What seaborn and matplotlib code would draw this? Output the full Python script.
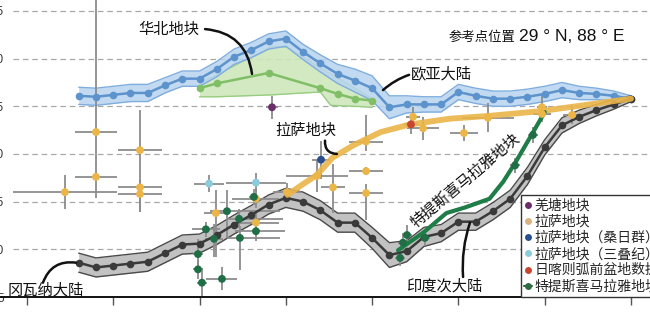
import matplotlib
matplotlib.use("Agg")
import matplotlib.pyplot as plt
import seaborn as sns
import numpy as np
import pandas as pd
from matplotlib.lines import Line2D
from matplotlib.font_manager import FontProperties

# ---------------- data ----------------
apwp_age = [320, 310, 300, 290, 280, 270, 260, 250, 240, 230, 220, 210, 200, 190, 180,
            170, 160, 150, 140, 130, 120, 110, 100, 90, 80, 70, 60, 50, 40, 30, 20, 10, 0]
eurasia_lat = [26.1, 26.0, 26.2, 26.4, 26.4, 27.2, 27.9, 27.9, 28.9, 30.2, 30.9, 31.8, 32.1, 30.7, 29.5,
               28.4, 27.7, 26.9, 24.9, 25.2, 25.2, 25.2, 26.5, 26.1, 25.8, 25.8, 26.0, 26.3, 26.7, 26.4, 26.3, 26.1, 25.8]
eurasia_err = [0.9, 0.9, 0.9, 0.9, 0.9, 0.8, 0.8, 0.8, 0.8, 0.8, 0.8, 0.8, 0.8, 0.8, 0.9,
               1.0, 1.2, 1.3, 1.2, 0.9, 0.8, 0.8, 0.8, 0.8, 0.8, 0.8, 0.8, 0.8, 0.8, 0.7, 0.6, 0.5, 0.3]
india_lat = [8.6, 8.1, 8.3, 8.5, 8.7, 9.6, 10.5, 10.6, 11.5, 12.6, 13.6, 14.7, 15.4, 15.0, 14.1,
             12.8, 12.8, 11.2, 9.4, 9.8, 11.3, 11.7, 12.9, 12.9, 14.0, 15.3, 17.7, 20.7, 23.0, 23.9, 24.6, 25.2, 25.8]
india_err = [1.0, 1.0, 1.0, 1.0, 1.0, 1.0, 1.0, 1.0, 1.0, 1.0, 1.0, 1.0, 1.0, 1.0, 1.0,
             1.0, 1.0, 1.1, 1.3, 1.1, 1.0, 0.9, 0.9, 0.9, 0.9, 0.9, 0.9, 0.8, 0.8, 0.7, 0.6, 0.5, 0.3]

nchina_age = [250, 240, 210, 180, 170, 160, 150]
nchina_lat = [26.9, 27.4, 28.5, 26.9, 26.3, 25.8, 25.6]
nchina_band_age = [250, 240, 208, 199, 180, 174, 160, 150]
nchina_band_hi = [27.4, 28.3, 31.3, 31.2, 29.0, 28.4, 26.9, 25.8]
nchina_band_lo = [26.0, 26.0, 26.2, 26.3, 26.5, 25.1, 25.0, 24.9]

lhasa_path_age = [199, 192, 182, 173, 161, 145, 128, 105, 82, 52, 24, 0]
lhasa_path_lat = [15.7, 16.6, 17.8, 19.6, 20.9, 22.3, 23.1, 23.7, 24.0, 24.5, 25.2, 25.8]
th_path_age = [135, 120, 107, 96, 82, 74, 67, 57, 50]
th_path_lat = [9.9, 11.8, 13.8, 14.4, 15.3, 17.1, 19.1, 22.2, 24.4]

# Lhasa block palaeolatitudes
lh_age = [310, 284.5, 310, 328, 284.5, 284.5, 240.5, 217.3, 217.3, 199.3, 181.9, 172.7,
          153.5, 153.5, 153.5, 126.3, 120.5, 96.8, 82.9, 51.6, 51.6, 34.2]
lh_lat = [22.3, 20.4, 17.6, 16.0, 16.5, 15.8, 13.8, 15.3, 12.8, 16.0, 17.7, 16.5,
          21.3, 18.2, 15.9, 23.9, 22.7, 22.2, 23.8, 24.9, 24.2, 24.1]
lh_xerr = [12, 13, 12, 30, 13, 13, 7, 13.6, 13.6, 8, 18, 7,
           9.8, 9.8, 9.8, 4, 9.3, 8, 15, 3, 5, 5]
lh_yerr_lo = [3.3, 4.0, 2.2, 1.8, 2.6, 1.9, 4.6, 1.0, 1.0, 1.0, 1.7, 2.7,
              1.0, 0.4, 2.8, 1.0, 1.2, 0.8, 1.5, 1.0, 0.8, 1.0]
lh_yerr_hi = [14, 4.2, 1.5, 1.8, 0.8, 0.5, 2.4, 1.0, 1.0, 1.0, 1.7, 2.5,
              2.8, 0.4, 1.0, 1.0, 1.2, 0.8, 1.5, 1.3, 0.5, 1.0]

qt_age = [208.0]
qt_lat = [24.9]
qt_xerr = [3.5]
qt_yerr = [1.2]

sangri_age = [179.6]
sangri_lat = [19.4]
sangri_xerr = [5]
sangri_yerr = [2.0]

tri_age = [244.5, 217.3]
tri_lat = [16.9, 17.0]
tri_xerr = [8.7, 17.4]
tri_yerr = [0.9, 1.0]

xig_age = [127.5]
xig_lat = [23.1]
xig_xerr = [4]
xig_yerr = [1.0]

th_age = [234.1, 246.3, 241.6, 227.1, 226.6, 217.3, 218.5, 250.9, 250.9, 248.6, 237.0,
          132.1, 129.8, 119.4, 133.8, 67.2, 56.8]
th_lat = [14.0, 12.1, 11.1, 13.2, 11.2, 11.9, 15.5, 9.5, 7.9, 6.5, 6.9,
          10.7, 11.5, 11.2, 9.1, 18.8, 22.0]
th_xerr_old = [9.8, 8, 5, 7, 7.5, 12, 3, 3, 3, 3, 9, 3, 3, 3, 3, 3, 3]
th_xerr_young = [30.7, 8, 5, 25.5, 23, 17, 3, 3, 3, 3, 9, 3, 3, 3, 3, 3, 3]
th_yerr_lo = [2.8, 0.8, 1.9, 1.0, 3.4, 1.0, 0.8, 1.6, 1.0, 1.5, 1.2, 1.0, 1.0, 0.8, 0.8, 0.8, 0.8]
th_yerr_hi = [2.2, 0.8, 1.6, 1.0, 1.2, 1.0, 0.8, 1.6, 1.0, 1.5, 1.2, 1.0, 1.0, 0.8, 0.8, 0.8, 0.8]

y_ticks = [5, 10, 15, 20, 25, 30, 35]
x_ticks = [350, 300, 250, 200, 150, 100, 50, 0]

legend_labels = ["羌塘地块", "拉萨地块", "拉萨地块（桑日群）", "拉萨地块（三叠纪）",
                 "日喀则弧前盆地数据", "特提斯喜马拉雅地块"]

# ---------------- style ----------------
sns.set_theme(style="white")
CJK = ["Noto Sans CJK SC", "DejaVu Sans"]
plt.rcParams["font.family"] = CJK

C_EU, C_EU_BAND, C_EU_EDGE = "#5d93cc", "#b8d4ef", "#7fadde"
C_NC, C_NC_BAND, C_NC_EDGE = "#80bf66", "#cde7bc", "#98cc80"
C_IN, C_IN_BAND, C_IN_EDGE = "#3a3a3a", "#c2c2c2", "#4a4a4a"
C_LH = "#ebb548"
C_TH = "#1f7d47"
C_ERR = "#8c8c8c"

fig = plt.figure(figsize=(6.5, 3.17), dpi=100)
ax = fig.add_axes([0, 20 / 317, 1, 297 / 317])
ax.set_xlim(365.6, -11.0)
ax.set_ylim(5, 36.15)

# grid lines
for yv in y_ticks[1:]:
    ax.axhline(yv, xmin=13 / 650, xmax=1, color="#a8a8a8", lw=0.9,
               ls=(0, (4.5, 3)), zorder=0.5)

# North China band
ax.fill_between(nchina_band_age, nchina_band_lo, nchina_band_hi, color=C_NC_BAND,
                alpha=0.9, lw=0, zorder=1)
ax.plot(nchina_band_age, nchina_band_hi, color=C_NC_EDGE, lw=1.0, zorder=1.1)
ax.plot(nchina_band_age, nchina_band_lo, color=C_NC_EDGE, lw=1.0, zorder=1.1)

# Eurasia band
eu_lo = np.array(eurasia_lat) - np.array(eurasia_err)
eu_hi = np.array(eurasia_lat) + np.array(eurasia_err)
ax.fill_between(apwp_age, eu_lo, eu_hi, color=C_EU_BAND, alpha=0.85, lw=0, zorder=1.5)
ax.plot(apwp_age, eu_lo, color=C_EU_EDGE, lw=1.0, zorder=1.6)
ax.plot(apwp_age, eu_hi, color=C_EU_EDGE, lw=1.0, zorder=1.6)

# India band
in_lo = np.array(india_lat) - np.array(india_err)
in_hi = np.array(india_lat) + np.array(india_err)
ax.fill_between(apwp_age, in_lo, in_hi, color=C_IN_BAND, lw=0, zorder=1.5)
ax.plot(apwp_age, in_lo, color=C_IN_EDGE, lw=1.0, zorder=1.6)
ax.plot(apwp_age, in_hi, color=C_IN_EDGE, lw=1.0, zorder=1.6)

# error bars
ekw = dict(fmt="none", ecolor=C_ERR, elinewidth=1.3, capsize=0, zorder=2)
ax.errorbar(lh_age, lh_lat, xerr=lh_xerr, yerr=[lh_yerr_lo, lh_yerr_hi], **ekw)
ax.errorbar(qt_age, qt_lat, xerr=qt_xerr, yerr=qt_yerr, **ekw)
ax.errorbar(sangri_age, sangri_lat, xerr=sangri_xerr, yerr=sangri_yerr, **ekw)
ax.errorbar(tri_age, tri_lat, xerr=tri_xerr, yerr=tri_yerr, **ekw)
ax.errorbar(xig_age, xig_lat, xerr=xig_xerr, yerr=xig_yerr, **ekw)
ax.errorbar(th_age, th_lat, xerr=[th_xerr_young, th_xerr_old],
            yerr=[th_yerr_lo, th_yerr_hi], **ekw)

# APWP lines
sns.lineplot(x=nchina_age, y=nchina_lat, color=C_NC, lw=1.8, marker="o", markersize=5.5,
             markeredgewidth=0, ax=ax, zorder=3, sort=False)
sns.lineplot(x=apwp_age, y=eurasia_lat, color=C_EU, lw=1.8, marker="o", markersize=5.5,
             markeredgewidth=0, ax=ax, zorder=3, sort=False)
sns.lineplot(x=apwp_age, y=india_lat, color=C_IN, lw=1.8, marker="o", markersize=5.5,
             markeredgewidth=0, ax=ax, zorder=3, sort=False)

# paths
sns.lineplot(x=lhasa_path_age, y=lhasa_path_lat, color=C_LH, lw=4.2, alpha=0.9,
             ax=ax, zorder=3.5, sort=False, solid_capstyle="round", solid_joinstyle="round")
sns.lineplot(x=th_path_age, y=th_path_lat, color=C_TH, lw=3.0, ax=ax, zorder=3.6,
             sort=False, solid_capstyle="round", solid_joinstyle="round")

# scatter markers
skw = dict(s=32, edgecolor="none", ax=ax, zorder=4, legend=False)
sns.scatterplot(x=lh_age, y=lh_lat, color=C_LH, **skw)
sns.scatterplot(x=qt_age, y=qt_lat, color="#6b2d6b", **skw)
sns.scatterplot(x=sangri_age, y=sangri_lat, color="#2a4f8f", **skw)
sns.scatterplot(x=tri_age, y=tri_lat, color="#8ccbdc", **skw)
sns.scatterplot(x=xig_age, y=xig_lat, color="#c8462e", **skw)
sns.scatterplot(x=th_age, y=th_lat, color="#1f6e45", **skw)

# axes styling
for s in ["left", "right", "top"]:
    ax.spines[s].set_visible(False)
ax.spines["bottom"].set_color("#111111")
ax.spines["bottom"].set_linewidth(1.4)
ax.set_xticks(x_ticks)
ax.set_yticks(y_ticks)
ax.set_yticklabels([str(v) for v in y_ticks], family="Liberation Sans", fontsize=8.5,
                   color="#333333")
ax.tick_params(axis="x", direction="out", length=6, width=1, color="#555555",
               labelbottom=False, bottom=True)
ax.tick_params(axis="y", length=0, pad=-2.6)
for lab in ax.get_yticklabels():
    lab.set_horizontalalignment("right")
ax.grid(False)
ax.set_xlabel("")
ax.set_ylabel("")

# annotations
tkw = dict(fontsize=11, color="#111111", family=CJK, zorder=6)
ax.text(267.7, 33.1, "华北地块", ha="center", va="center", **tkw)
ax.text(110.1, 28.4, "欧亚大陆", ha="center", va="center", **tkw)
ax.text(188.3, 22.5, "拉萨地块", ha="center", va="center", **tkw)
ax.text(361.0, 5.75, "冈瓦纳大陆", ha="left", va="center", **tkw)
ax.text(108.4, 6.2, "印度次大陆", ha="center", va="center", **tkw)
ax.text(96.0, 17.2, "特提斯喜马拉雅地块", ha="center", va="center", rotation=40,
        rotation_mode="anchor", **tkw)
ax.text(86.3, 32.3, "参考点位置", ha="center", va="center", fontsize=9.6,
        color="#111111", family=CJK, zorder=6)
ax.text(65.0, 32.3, "29 ° N, 88 ° E", ha="left", va="center", fontsize=12.5,
        color="#111111", family=["Liberation Sans", "DejaVu Sans"], zorder=6)

akw = dict(arrowstyle="-", color="#111111", lw=1.8, shrinkA=0, shrinkB=0)
ax.annotate("", xy=(219.6, 28.4), xytext=(246.8, 33.1),
            arrowprops=dict(connectionstyle="arc3,rad=-0.4", **akw), zorder=6)
ax.annotate("", xy=(143.7, 26.7), xytext=(128.6, 28.3),
            arrowprops=dict(connectionstyle="arc3,rad=0.1", **akw), zorder=6)
ax.annotate("", xy=(170.4, 20.0), xytext=(177.3, 21.4),
            arrowprops=dict(connectionstyle="arc3,rad=0.5", **akw), zorder=6)
ax.annotate("", xy=(321.6, 8.6), xytext=(340.7, 6.5),
            arrowprops=dict(connectionstyle="arc3,rad=-0.4", **akw), zorder=6)
ax.annotate("", xy=(93.3, 12.8), xytext=(97.3, 7.1),
            arrowprops=dict(connectionstyle="arc3,rad=-0.1", **akw), zorder=6)

# legend
leg_colors = ["#6b2d6b", "#d9b482", "#2a4f8f", "#8ccbdc", "#c8462e", "#2e6b3f"]
handles = []
for i, c in enumerate(leg_colors):
    if i == len(leg_colors) - 1:
        handles.append(Line2D([], [], color=c, lw=1.5, marker="o", ms=5, mew=0))
    else:
        handles.append(Line2D([], [], color=c, ls="none", marker="o", ms=5, mew=0))
leg = ax.legend(handles, legend_labels, loc="upper left",
                bbox_to_anchor=(521 / 650, (297 - 195) / 297), borderaxespad=0,
                prop=FontProperties(family="Noto Sans CJK SC", size=10),
                frameon=True, fancybox=False, framealpha=1, edgecolor="#333333",
                handlelength=0.55, handletextpad=0.15, labelspacing=0.16,
                borderpad=0.25, markerscale=1.0)
leg.get_frame().set_linewidth(1.0)
leg.set_zorder(7)

fig.savefig("out.png", dpi=100)
